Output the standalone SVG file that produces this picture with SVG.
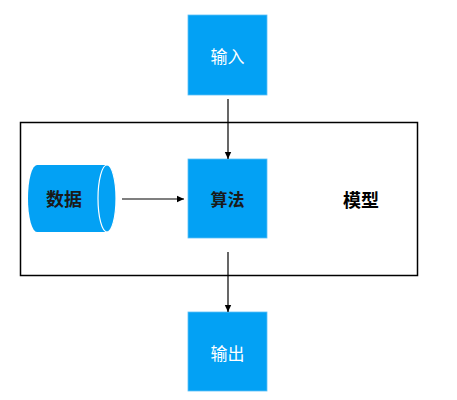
<svg xmlns="http://www.w3.org/2000/svg" width="457" height="400" viewBox="0 0 457 400">
<style>
.box{fill:#03A1F4;stroke:#5cc0f7;stroke-width:0.8}
.lbl{font-family:"Noto Sans CJK SC","Noto Sans",sans-serif;font-size:17px;text-anchor:middle;dominant-baseline:central}
.w{fill:#ffffff}
.d{fill:#1a1a1a;font-weight:bold}
.k{fill:#000000;font-weight:bold;font-size:18px}
.line{stroke:#000;stroke-width:1.2;fill:none}
</style>
<defs>
<marker id="ah" markerWidth="8" markerHeight="8" refX="7" refY="4" orient="auto" markerUnits="userSpaceOnUse">
<path d="M0,0.8 L7,4 L0,7.2 Z" fill="#000"/>
</marker>
</defs>
<g id="model">
<rect x="20.5" y="122.5" width="397" height="153" fill="none" stroke="#000" stroke-width="1.5"/>
<text class="lbl k" x="361" y="199">模型</text>
</g>
<g id="input">
<rect class="box" x="188" y="15" width="79" height="80"/>
<text class="lbl w" x="227.5" y="55">输入</text>
</g>
<g id="algo">
<rect class="box" x="188" y="159" width="79" height="79"/>
<text class="lbl d" x="227.5" y="198">算法</text>
</g>
<g id="output">
<rect class="box" x="188" y="312" width="79" height="79"/>
<text class="lbl w" x="227.5" y="352">输出</text>
</g>
<g id="data">
<path d="M107,165 L37,165 A9,33.5 0 0 0 37,232 L107,232 A9,33.5 0 0 0 107,165 Z" fill="#03A1F4"/>
<ellipse cx="107" cy="198.5" rx="9" ry="33.5" fill="#03A1F4" stroke="#ffffff" stroke-width="1.2"/>
<text class="lbl d" x="64" y="198" style="font-size:18px">数据</text>
</g>
<g id="connectors">
<line class="line" x1="228" y1="99" x2="228" y2="159" marker-end="url(#ah)"/>
<line class="line" x1="122" y1="199" x2="184" y2="199" marker-end="url(#ah)"/>
<line class="line" x1="228" y1="252" x2="228" y2="312" marker-end="url(#ah)"/>
</g>
</svg>
